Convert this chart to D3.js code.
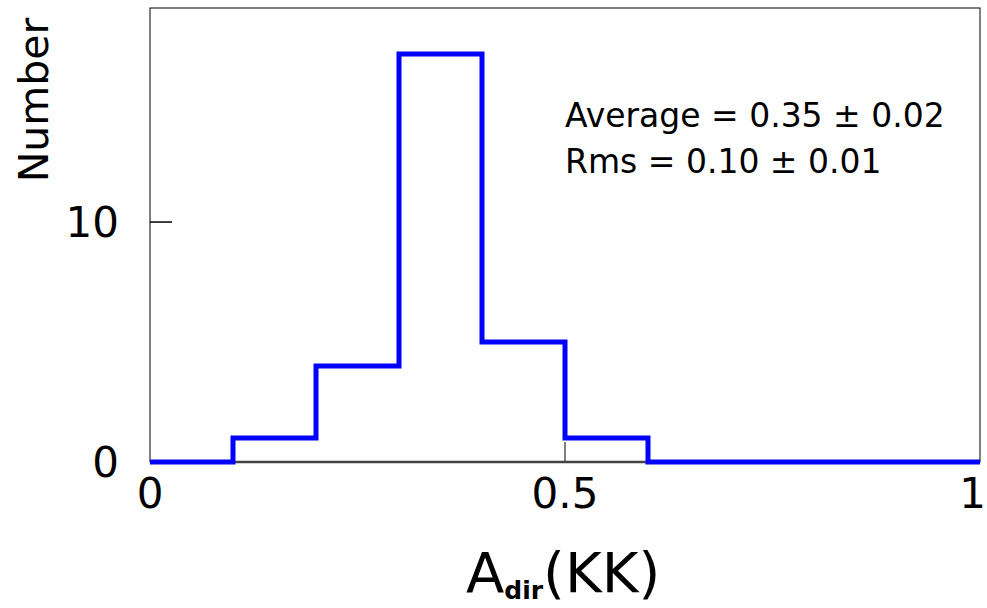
<!DOCTYPE html>
<html lang="en">
<head>
<meta charset="UTF-8">
<title>A_dir(KK) histogram</title>
<script src="https://d3js.org/d3.v7.min.js"></script>
<style>
  body { margin: 0; background: #fff; }
  svg { display: block; }
</style>
</head>
<body>
<script>

    // histogram bins (lower edges) and counts
    var binEdges = [0, 0.1, 0.2, 0.3, 0.4, 0.5, 0.6, 0.7, 0.8, 0.9, 1.0];
    var counts = [0, 1, 4, 17, 5, 1, 0, 0, 0, 0];
    var xTicks = [0, 0.5, 1];
    var xTickLabels = ["0", "0.5", "1"];
    var yTicks = [0, 10];
    var statsLines = ["Average = 0.35 \u00b1 0.02", "Rms = 0.10 \u00b1 0.01"];

    var width = 987, height = 608;
    var margin = {top: 8, right: 7, bottom: 146, left: 150};

    var x = d3.scaleLinear().domain([0, 1]).range([margin.left, width - margin.right]);
    var y = d3.scaleLinear().domain([0, 18.92]).range([height - margin.bottom, margin.top]);

    const svg = d3.select("body").append("svg")
        .attr("width", width)
        .attr("height", height)
        .style("font-family", "'DejaVu Sans', sans-serif");

    // frame
    svg.append("rect")
        .attr("x", x(0)).attr("y", y(18.92))
        .attr("width", x(1) - x(0)).attr("height", y(0) - y(18.92))
        .attr("fill", "none").attr("stroke", "#000").attr("stroke-width", 1);

    // ticks (inside the frame)
    svg.append("g").selectAll("line").data(xTicks.slice(1, -1)).join("line")
        .attr("x1", d => x(d)).attr("x2", d => x(d))
        .attr("y1", y(0)).attr("y2", y(0) - 20)
        .attr("stroke", "#000").attr("stroke-width", 1);

    svg.append("g").selectAll("line").data(yTicks.slice(1)).join("line")
        .attr("x1", x(0)).attr("x2", x(0) + 22)
        .attr("y1", d => y(d)).attr("y2", d => y(d))
        .attr("stroke", "#000").attr("stroke-width", 1.5);

    // bottom axis line
    svg.append("line")
        .attr("x1", x(0)).attr("x2", x(1))
        .attr("y1", y(0)).attr("y2", y(0))
        .attr("stroke", "#444").attr("stroke-width", 2.5);

    // histogram step line
    var pts = [[x(binEdges[0]), y(0)]];
    counts.forEach((c, i) => {
        pts.push([x(binEdges[i]), y(c)]);
        pts.push([x(binEdges[i + 1]), y(c)]);
    });
    pts.push([x(binEdges[binEdges.length - 1]), y(0)]);

    svg.append("path")
        .attr("d", d3.line()(pts))
        .attr("fill", "none")
        .attr("stroke", "#0000ff")
        .attr("stroke-width", 5)
        .attr("stroke-linejoin", "miter");

    // tick labels
    svg.append("g").selectAll("text").data(xTicks).join("text")
        .attr("x", (d, i) => i === xTicks.length - 1 ? width - 1 : x(d))
        .attr("y", y(0) + 46)
        .attr("text-anchor", (d, i) => i === xTicks.length - 1 ? "end" : "middle")
        .attr("font-size", 42)
        .text((d, i) => xTickLabels[i]);

    svg.append("g").selectAll("text").data(yTicks).join("text")
        .attr("x", x(0) - 31)
        .attr("y", d => y(d))
        .attr("dy", "0.36em")
        .attr("text-anchor", "end")
        .attr("font-size", 42)
        .text(d => d);

    // axis titles
    var xt = svg.append("text")
        .attr("x", 466)
        .attr("y", 592)
        .attr("font-size", 56);
    xt.append("tspan").text("A");
    xt.append("tspan").attr("font-size", 25).attr("dy", 7).attr("font-weight", "bold").text("dir");
    xt.append("tspan").attr("dy", -7).text("(KK)");

    svg.append("text")
        .attr("transform", "translate(48,100) rotate(-90)")
        .attr("text-anchor", "middle")
        .attr("font-size", 41)
        .text("Number");

    // stats box text
    svg.append("g").selectAll("text").data(statsLines).join("text")
        .attr("x", 565)
        .attr("y", (d, i) => 127 + i * 46)
        .attr("font-size", 33)
        .text(d => d);

</script>
</body>
</html>
